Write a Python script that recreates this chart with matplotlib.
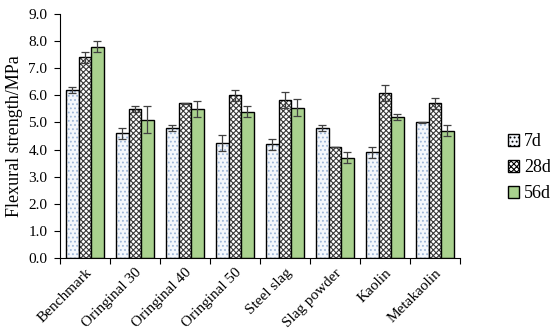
import numpy as np
import matplotlib.pyplot as plt
from matplotlib.patches import Patch

plt.rcParams['font.family'] = ['Liberation Serif', 'DejaVu Serif']
plt.rcParams['hatch.linewidth'] = 0.8

categories = ['Benchmark', 'Oringinal 30', 'Oringinal 40', 'Oringinal 50',
              'Steel slag', 'Slag powder', 'Kaolin', 'Metakaolin']
series = ['7d', '28d', '56d']
vals_7d = [6.2, 4.6, 4.8, 4.25, 4.2, 4.8, 3.9, 5.0]
vals_28d = [7.4, 5.5, 5.7, 6.0, 5.83, 4.1, 6.1, 5.7]
vals_56d = [7.8, 5.1, 5.5, 5.4, 5.55, 3.7, 5.2, 4.7]
err_7d = [0.1, 0.2, 0.1, 0.3, 0.2, 0.1, 0.2, 0.03]
err_28d = [0.2, 0.1, 0.03, 0.2, 0.3, 0.0, 0.3, 0.2]
err_56d = [0.2, 0.5, 0.3, 0.2, 0.3, 0.2, 0.1, 0.2]

# fill, hatch, hatch colour per series
styles = [('#f4f7fc', '....', '#9db6d8'),
          ('white', 'xxxxxx', '#3a3a3a'),
          ('#a9d18e', '', '#a9d18e')]

fig = plt.figure(figsize=(5.5, 3.35), dpi=100)
ax = fig.add_axes([0.109, 0.23, 0.727, 0.728])

x = np.arange(len(categories))
w = 0.25
data = [(vals_7d, err_7d), (vals_28d, err_28d), (vals_56d, err_56d)]
for i, ((v, e), (fc, h, hc)) in enumerate(zip(data, styles)):
    pos = x + (i - 1) * w
    ax.bar(pos, v, w, color=fc, hatch=h, edgecolor=hc, linewidth=0)
    ax.bar(pos, v, w, fill=False, edgecolor='black', linewidth=1.0)
    ax.errorbar(pos, v, yerr=e, fmt='none', ecolor='#404040',
                elinewidth=0.9, capsize=3, capthick=0.9)

ax.set_xlim(-0.5, len(categories) - 0.5)
ax.set_ylim(0, 9)
ax.set_yticks(np.arange(0, 9.01, 1.0))
ax.set_yticklabels([f'{t:.1f}' for t in np.arange(0, 9.01, 1.0)], fontsize=11)
ax.set_xticks(np.arange(len(categories) + 1) - 0.5, minor=False)
ax.set_xticklabels([])
ax.set_xticks(x, minor=True)
ax.set_xticklabels(categories, minor=True, rotation=45, ha='right',
                   rotation_mode='anchor', fontsize=11)
ax.tick_params(axis='x', which='minor', length=0, pad=6)
ax.tick_params(axis='x', which='major', direction='out', length=4)
ax.tick_params(axis='y', direction='out', length=4, pad=5)
ax.spines['top'].set_visible(False)
ax.spines['right'].set_visible(False)
ax.set_ylabel('Flexural strength/MPa', fontsize=13)

handles = []
for (fc, h, hc) in styles:
    handles.append(Patch(facecolor=fc, hatch=h, edgecolor='black'))
leg = ax.legend(handles, series, loc='center left', bbox_to_anchor=(1.08, 0.37),
                frameon=False, fontsize=13, handlelength=0.6, handleheight=0.6,
                handletextpad=0.3, labelspacing=0.5)

fig.savefig('out.png', dpi=100)
